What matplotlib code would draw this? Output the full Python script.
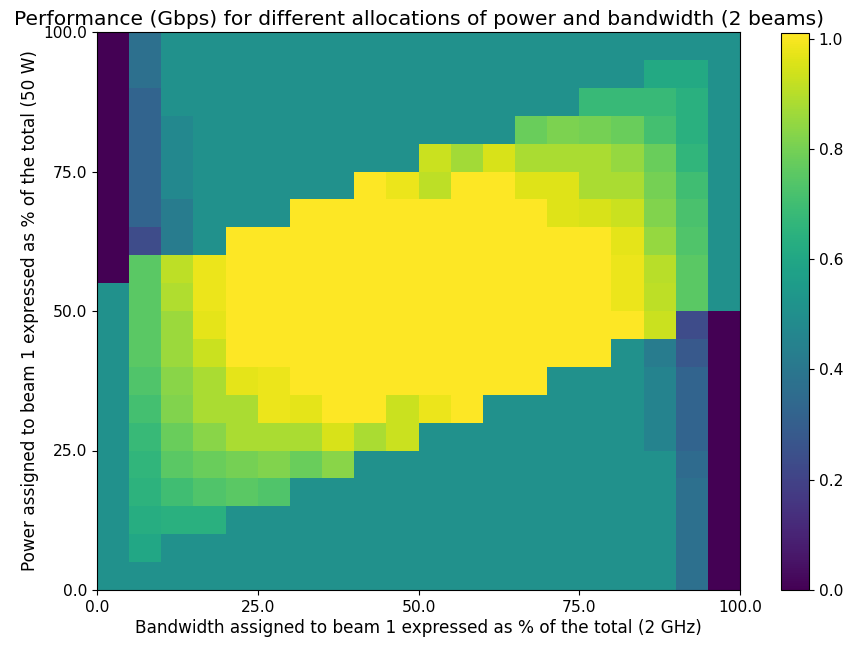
import numpy as np
import matplotlib
matplotlib.use("Agg")
import matplotlib.pyplot as plt

# Cell edges (% of total) along each axis
bandwidth_pct = [0, 5, 10, 15, 20, 25, 30, 35, 40, 45, 50, 55, 60, 65, 70, 75, 80, 85, 90, 95, 100]
power_pct = [0, 5, 10, 15, 20, 25, 30, 35, 40, 45, 50, 55, 60, 65, 70, 75, 80, 85, 90, 95, 100]

T = 0.505  # baseline (half of the maximum)
Y = 1.01   # maximum performance

# Performance (Gbps); rows from power 0-5% (bottom) upward, columns bandwidth 0-5% ... 95-100%
row_00 = [T, T,    T,    T,    T,    T,    T,    T,    T, T,    T,    T, T, T, T, T, T,    T,    0.37, 0]
row_01 = [T, 0.60, T,    T,    T,    T,    T,    T,    T, T,    T,    T, T, T, T, T, T,    T,    0.37, 0]
row_02 = [T, 0.63, 0.64, 0.64, T,    T,    T,    T,    T, T,    T,    T, T, T, T, T, T,    T,    0.37, 0]
row_03 = [T, 0.65, 0.70, 0.73, 0.75, 0.73, T,    T,    T, T,    T,    T, T, T, T, T, T,    T,    0.37, 0]
row_04 = [T, 0.66, 0.75, 0.78, 0.80, 0.82, 0.78, 0.83, T, T,    T,    T, T, T, T, T, T,    T,    0.35, 0]
row_05 = [T, 0.68, 0.78, 0.83, 0.88, 0.88, 0.88, 0.95, 0.88, 0.93, T, T, T, T, T, T, T,    0.45, 0.32, 0]
row_06 = [T, 0.71, 0.82, 0.88, 0.88, 0.98, 0.97, Y,    Y, 0.93, 0.98, Y, T, T, T, T, T,    0.45, 0.32, 0]
row_07 = [T, 0.73, 0.83, 0.88, 0.97, 0.98, Y,    Y,    Y, Y,    Y,    Y, Y, Y, T, T, T,    0.45, 0.32, 0]
row_08 = [T, 0.75, 0.86, 0.93, Y,    Y,    Y,    Y,    Y, Y,    Y,    Y, Y, Y, Y, Y, T,    0.42, 0.28, 0]
row_09 = [T, 0.75, 0.86, 0.97, Y,    Y,    Y,    Y,    Y, Y,    Y,    Y, Y, Y, Y, Y, Y,    0.93, 0.23, 0]
row_10 = [T, 0.75, 0.89, 0.98, Y,    Y,    Y,    Y,    Y, Y,    Y,    Y, Y, Y, Y, Y, 0.98, 0.91, 0.75, T]
row_11 = [0, 0.75, 0.91, 0.98, Y,    Y,    Y,    Y,    Y, Y,    Y,    Y, Y, Y, Y, Y, 0.98, 0.90, 0.75, T]
row_12 = [0, 0.23, 0.42, T,    Y,    Y,    Y,    Y,    Y, Y,    Y,    Y, Y, Y, Y, Y, 0.97, 0.85, 0.73, T]
row_13 = [0, 0.32, 0.42, T,    T,    T,    Y,    Y,    Y, Y,    Y,    Y, Y, Y, 0.96, 0.95, 0.93, 0.82, 0.72, T]
row_14 = [0, 0.32, 0.47, T,    T,    T,    T,    T,    Y, 0.98, 0.91, Y, Y, 0.96, 0.96, 0.88, 0.88, 0.80, 0.70, T]
row_15 = [0, 0.32, 0.47, T,    T,    T,    T,    T,    T, T,    0.93, 0.87, 0.95, 0.88, 0.88, 0.88, 0.85, 0.78, 0.66, T]
row_16 = [0, 0.32, 0.47, T,    T,    T,    T,    T,    T, T,    T,    T, T, 0.78, 0.81, 0.80, 0.78, 0.71, 0.64, T]
row_17 = [0, 0.32, T,    T,    T,    T,    T,    T,    T, T,    T,    T, T, T, T, 0.68, 0.68, 0.68, 0.64, T]
row_18 = [0, 0.37, T,    T,    T,    T,    T,    T,    T, T,    T,    T, T, T, T, T, T,    0.61, 0.61, T]
row_19 = [0, 0.37, T,    T,    T,    T,    T,    T,    T, T,    T,    T, T, T, T, T, T,    T,    T,    T]

rows = [row_00, row_01, row_02, row_03, row_04, row_05, row_06, row_07, row_08, row_09,
        row_10, row_11, row_12, row_13, row_14, row_15, row_16, row_17, row_18, row_19]

axis_ticks = [0, 25, 50, 75, 100]
cbar_ticks = [0.0, 0.2, 0.4, 0.6, 0.8, 1.0]

title = "Performance (Gbps) for different allocations of power and bandwidth (2 beams)"
xlabel = "Bandwidth assigned to beam 1 expressed as % of the total (2 GHz)"
ylabel = "Power assigned to beam 1 expressed as % of the total (50 W)"

perf = np.array(rows, dtype=float)

fig = plt.figure(figsize=(8.5, 6.48), dpi=100)
ax = fig.add_axes([97 / 850, 58 / 648, 643 / 850, 558 / 648])
cax = fig.add_axes([781 / 850, 58 / 648, 28 / 850, 557 / 648])

mesh = ax.pcolormesh(bandwidth_pct, power_pct, perf, cmap="viridis", vmin=0, vmax=Y)
ax.set_xlim(bandwidth_pct[0], bandwidth_pct[-1])
ax.set_ylim(power_pct[0], power_pct[-1])
ax.set_xticks(axis_ticks)
ax.set_yticks(axis_ticks)
ax.set_xticklabels([f"{t:.1f}" for t in axis_ticks], fontsize=11.2)
ax.set_yticklabels([f"{t:.1f}" for t in axis_ticks], fontsize=11.2)
ax.set_xlabel(xlabel, fontsize=12.2, labelpad=3)
ax.set_ylabel(ylabel, fontsize=12.2, labelpad=3)
ax.set_title(title, fontsize=14.6, pad=5)

cb = fig.colorbar(mesh, cax=cax, ticks=cbar_ticks)
cb.ax.set_yticklabels([f"{t:.1f}" for t in cbar_ticks], fontsize=11.2)

fig.savefig("out.png", dpi=100)
